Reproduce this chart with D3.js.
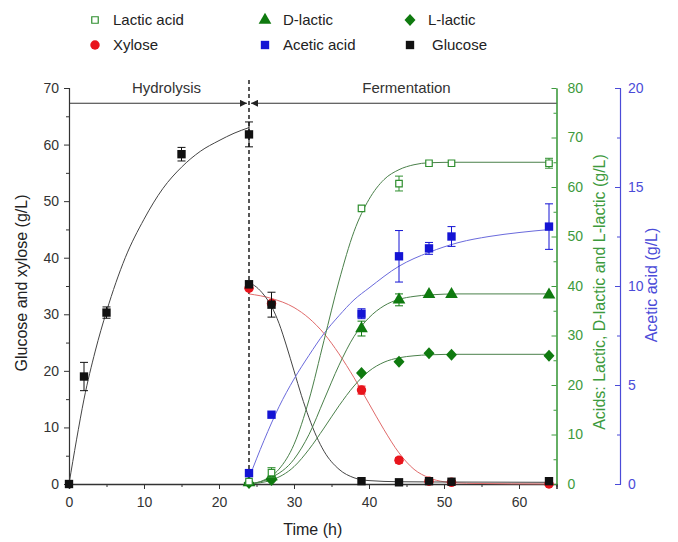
<!DOCTYPE html>
<html>
<head>
<meta charset="utf-8">
<script src="https://cdn.jsdelivr.net/npm/d3@7"></script>
<style>
  body { margin: 0; background: #fff; }
  svg { font-family: "Liberation Sans", Arial, sans-serif; }
</style>
</head>
<body>
<div id="chart"></div>
<script>
// measured points
const hydT = [0, 2, 5, 15, 24];
const glucoseHyd = [0, 19, 30.3, 58.3, 61.8];
const glucoseHydErr = [0, 2.5, 1, 1.2, 2.2];

const fermT = [24, 27, 39, 44, 48, 51, 64];
const glucoseFerm = [35.3, 31.7, 0.5, 0.3, 0.5, 0.4, 0.5];
const glucoseFermErr = [0.6, 2.2, 0, 0, 0, 0, 0];
const xylose = [34.6, 31.9, 16.6, 4.2, 0.5, 0.3, 0];
const xyloseErr = [0, 0, 0.7, 0.5, 0, 0, 0];
const acetic = [0.55, 3.5, 8.6, 11.5, 11.9, 12.5, 13.0];
const aceticErr = [0, 0, 0.25, 1.3, 0.3, 0.5, 1.15];
const lactic = [0.5, 2.3, 55.7, 60.7, 64.8, 64.8, 64.8];
const lacticErr = [0, 1, 0, 1.5, 0, 0, 1];
const dLactic = [0.3, 1.5, 31.4, 37.2, 38.3, 38.3, 38.2];
const dLacticErr = [0, 0, 1.5, 1.2, 0, 0, 0];
const lLactic = [0.2, 0.8, 22.4, 24.7, 26.4, 26.1, 25.9];

// fitted curves
const fitHydT = [0, 1, 2, 3.5, 5, 7.5, 10, 12.5, 15, 17.5, 20, 22, 24];
const fitHyd = [0, 7.8, 15, 23.5, 30.5, 40, 46.8, 52.2, 56, 58.8, 60.7, 62, 63];
const fitGluT = [24, 25, 26, 27, 28, 29, 30, 31, 32, 33, 34, 36, 38, 40, 44, 50, 64];
const fitGlu = [35.6, 34.8, 33.4, 31.4, 28.4, 24.4, 20, 15.6, 11.7, 8.4, 5.8, 2.6, 1.1, 0.6, 0.4, 0.35, 0.3];
const fitXylT = [24, 27, 30, 32, 34, 36, 38, 40, 42, 44, 46, 48, 50, 54, 64];
const fitXyl = [33.6, 32.8, 31.2, 29.3, 26.6, 23, 18.8, 14.2, 9.6, 5.5, 2.6, 1.1, 0.4, 0.1, 0];
const fitAceT = [24, 26, 28, 30, 32, 34, 36, 38, 40, 44, 48, 52, 56, 60, 64];
const fitAce = [0.3, 2.2, 3.9, 5.3, 6.5, 7.6, 8.5, 9.3, 9.9, 11.0, 11.7, 12.2, 12.5, 12.7, 12.85];
const fitLacT = [24, 26, 28, 30, 32, 34, 36, 38, 40, 42, 44, 46, 48, 52, 64];
const fitLac = [0, 0.8, 3, 8, 17, 29, 41, 51, 57.5, 61.5, 63.5, 64.5, 64.9, 65, 65];
const fitDT = [24, 27, 30, 32, 34, 36, 38, 40, 42, 44, 46, 48, 52, 64];
const fitD = [0, 1.3, 5, 10, 17, 24, 29.8, 33.6, 36, 37.3, 37.9, 38.2, 38.4, 38.4];
const fitLT = [24, 27, 30, 32, 34, 36, 38, 40, 42, 44, 46, 48, 52, 64];
const fitL = [0, 0.8, 3.5, 7, 11.3, 15.8, 19.8, 22.8, 24.6, 25.5, 25.9, 26.1, 26.2, 26.2];

const legendItems = [
  ["Lactic acid", "openSquare", "#2f8f2f"], ["D-lactic", "triangle", "#0f7a0f"], ["L-lactic", "diamond", "#0f7a0f"],
  ["Xylose", "circle", "#e8141c"], ["Acetic acid", "square", "#1414d4"], ["Glucose", "square", "#111"]
];

const width = 678, height = 542;
const svg = d3.select("#chart").append("svg").attr("width", width).attr("height", height);

const x = d3.scaleLinear().domain([0, 65]).range([69, 556.5]);
const yL = d3.scaleLinear().domain([0, 70]).range([484, 88]);
const yG = d3.scaleLinear().domain([0, 80]).range([484, 88]);
const yB = d3.scaleLinear().domain([0, 20]).range([484, 88]);

const green = "#3d9a3d", blue = "#4b4bd8", axisGray = "#333";

// axes
function styleAxis(g, col, fs) {
  g.selectAll("path.domain").attr("stroke", col).attr("stroke-width", 1.1);
  g.selectAll("line").attr("stroke", col);
  g.selectAll("text").attr("fill", col).style("font-size", fs + "px");
}

const bottomMinor = svg.append("g").attr("transform", "translate(0,484)")
  .call(d3.axisBottom(x).tickValues(d3.range(5, 65, 10)).tickSize(3).tickFormat(""));
styleAxis(bottomMinor, axisGray, 13);
const bottom = svg.append("g").attr("transform", "translate(0,484)")
  .call(d3.axisBottom(x).tickValues(d3.range(0, 61, 10)).tickSize(5).tickPadding(8));
styleAxis(bottom, axisGray, 14);
bottom.select("path.domain").attr("stroke-width", 1.6);

const leftMinor = svg.append("g").attr("transform", "translate(69,0)")
  .call(d3.axisLeft(yL).tickValues(d3.range(5, 70, 10)).tickSize(3).tickFormat(""));
styleAxis(leftMinor, axisGray, 13);
const left = svg.append("g").attr("transform", "translate(69,0)")
  .call(d3.axisLeft(yL).tickValues(d3.range(0, 71, 10)).tickSize(5).tickPadding(5));
styleAxis(left, axisGray, 14);

const greenMinor = svg.append("g").attr("transform", "translate(556.5,0)")
  .call(d3.axisRight(yG).tickValues(d3.range(5, 80, 10)).tickSizeInner(-3).tickSizeOuter(0).tickFormat(""));
styleAxis(greenMinor, green, 13);
const gAxis = svg.append("g").attr("transform", "translate(556.5,0)")
  .call(d3.axisRight(yG).tickValues(d3.range(0, 81, 10)).tickSizeInner(-5).tickSizeOuter(0).tickPadding(11));
styleAxis(gAxis, green, 14);

const blueMinor = svg.append("g").attr("transform", "translate(620,0)")
  .call(d3.axisRight(yB).tickValues([2.5, 7.5, 12.5, 17.5]).tickSizeInner(-3).tickSizeOuter(0).tickFormat(""));
styleAxis(blueMinor, blue, 13);
const bAxis = svg.append("g").attr("transform", "translate(620,0)")
  .call(d3.axisRight(yB).tickValues([0, 5, 10, 15, 20]).tickSizeInner(-5).tickSizeOuter(-5).tickPadding(8));
styleAxis(bAxis, blue, 14);

// axis titles
svg.append("text").attr("transform", "translate(27,283) rotate(-90)").attr("text-anchor", "middle")
  .style("font-size", "16px").attr("fill", "#222").text("Glucose and xylose (g/L)");
svg.append("text").attr("transform", "translate(605,292) rotate(-90)").attr("text-anchor", "middle")
  .style("font-size", "16px").attr("fill", green).text("Acids: Lactic, D-lactic and L-lactic (g/L)");
svg.append("text").attr("transform", "translate(657,285) rotate(-90)").attr("text-anchor", "middle")
  .style("font-size", "16px").attr("fill", blue).text("Acetic acid (g/L)");
svg.append("text").attr("x", x(32.5)).attr("y", 535).attr("text-anchor", "middle")
  .style("font-size", "16px").attr("fill", "#222").text("Time (h)");

// hydrolysis / fermentation arrows
const defs = svg.append("defs");
defs.append("marker").attr("id", "arr").attr("viewBox", "0 0 10 10").attr("refX", 10).attr("refY", 5)
  .attr("markerWidth", 9).attr("markerHeight", 7).attr("markerUnits", "userSpaceOnUse").attr("orient", "auto")
  .append("path").attr("d", "M0,0L10,5L0,10z").attr("fill", "#222");
const arrowY = yL(67.3);
svg.append("line").attr("x1", x(0)).attr("x2", x(24) - 2).attr("y1", arrowY).attr("y2", arrowY)
  .attr("stroke", "#333").attr("stroke-width", 1.2).attr("marker-end", "url(#arr)");
svg.append("line").attr("x1", x(65)).attr("x2", x(24) + 2).attr("y1", arrowY).attr("y2", arrowY)
  .attr("stroke", "#333").attr("stroke-width", 1.2).attr("marker-end", "url(#arr)");
svg.append("text").attr("x", x(13)).attr("y", 93).attr("text-anchor", "middle")
  .style("font-size", "15px").attr("fill", "#333").text("Hydrolysis");
svg.append("text").attr("x", x(45)).attr("y", 93).attr("text-anchor", "middle")
  .style("font-size", "15px").attr("fill", "#333").text("Fermentation");
svg.append("line").attr("x1", x(24)).attr("x2", x(24)).attr("y1", 80).attr("y2", 484)
  .attr("stroke", "#111").attr("stroke-width", 1.4).attr("stroke-dasharray", "4,3");

// fitted curves
function curve(ts, vs, y, col, w) {
  svg.append("path").datum(ts.map((t, i) => [t, vs[i]]))
    .attr("fill", "none").attr("stroke", col).attr("stroke-width", w || 1)
    .attr("d", d3.line().x(d => x(d[0])).y(d => y(d[1])).curve(d3.curveMonotoneX));
}
curve(fitHydT, fitHyd, yL, "#444");
curve(fitXylT, fitXyl, yL, "#e06a6a");
curve(fitGluT, fitGlu, yL, "#444");
curve(fitAceT, fitAce, yB, "#6a6adc");
curve(fitLacT, fitLac, yG, "#4a804a");
curve(fitDT, fitD, yG, "#4a804a");
curve(fitLT, fitL, yG, "#4a804a");

// error bars + markers
const diamondPath = () => "M0,-6L5.5,0L0,6L-5.5,0Z";
const sym = {
  square: d3.symbol().type(d3.symbolSquare).size(70),
  openSquare: d3.symbol().type(d3.symbolSquare).size(42),
  triangle: d3.symbol().type(d3.symbolTriangle).size(70),
  diamond: diamondPath,
  circle: d3.symbol().type(d3.symbolCircle).size(70)
};
function series(ts, vs, errs, y, shape, col) {
  const g = svg.append("g");
  ts.forEach((t, i) => {
    const e = errs ? errs[i] : 0;
    if (e > 0) {
      const cx = x(t);
      g.append("line").attr("x1", cx).attr("x2", cx).attr("y1", y(vs[i] - e)).attr("y2", y(vs[i] + e)).attr("stroke", col);
      [vs[i] - e, vs[i] + e].forEach(v => g.append("line").attr("x1", cx - 4).attr("x2", cx + 4)
        .attr("y1", y(v)).attr("y2", y(v)).attr("stroke", col));
    }
    const p = g.append("path").attr("d", sym[shape]()).attr("transform", `translate(${x(t)},${y(vs[i])})`);
    if (shape === "openSquare") p.attr("fill", "#fff").attr("stroke", col).attr("stroke-width", 1.2);
    else p.attr("fill", col);
  });
}
series(fermT, lLactic, null, yG, "diamond", "#0f7a0f");
series(fermT, dLactic, dLacticErr, yG, "triangle", "#0f7a0f");
series(fermT, lactic, lacticErr, yG, "openSquare", "#2f8f2f");
series(fermT, xylose, xyloseErr, yL, "circle", "#e8141c");
series(fermT, acetic, aceticErr, yB, "square", "#1414d4");
series(fermT, glucoseFerm, glucoseFermErr, yL, "square", "#111");
series(hydT, glucoseHyd, glucoseHydErr, yL, "square", "#111");

// legend
const legend = svg.append("g");
legendItems.forEach((d, i) => {
  const col = i % 3, row = Math.floor(i / 3);
  const lx = [95, 265, 410][col], ly = [20, 45][row];
  const p = legend.append("path").attr("transform", `translate(${lx},${ly})`).attr("d", sym[d[1]]());
  if (d[1] === "openSquare") p.attr("fill", "#fff").attr("stroke", d[2]).attr("stroke-width", 1.2);
  else p.attr("fill", d[2]);
  legend.append("text").attr("x", lx + (col === 2 && row === 1 ? 22 : 18)).attr("y", ly + 5)
    .style("font-size", "15px").attr("fill", "#222").text(d[0]);
});
</script>
</body>
</html>
